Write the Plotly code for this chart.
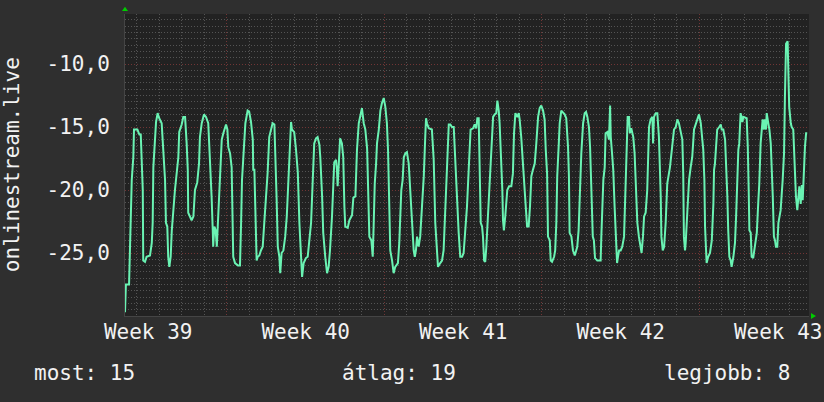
import plotly.graph_objects as go

# ---- data (time in days from left edge of the chart, value) ----
days = [
    0, 0.04, 0.18, 0.22, 0.30, 0.37, 0.40, 0.55, 0.64, 0.70,
    0.74, 0.79, 0.81, 0.89, 0.96, 1.11, 1.19, 1.23, 1.26, 1.33,
    1.38, 1.45, 1.52, 1.63, 1.70, 1.78, 1.82, 1.88, 1.92, 1.97,
    2.03, 2.08, 2.22, 2.37, 2.41, 2.52, 2.59, 2.67, 2.74, 2.79,
    2.81, 2.89, 2.96, 3.04, 3.11, 3.21, 3.29, 3.33, 3.41, 3.51,
    3.60, 3.70, 3.78, 3.85, 3.90, 3.92, 3.97, 4.03, 4.08, 4.15,
    4.22, 4.30, 4.37, 4.49, 4.55, 4.59, 4.67, 4.74, 4.81, 4.89,
    5.02,
    5.11, 5.16, 5.20, 5.26, 5.35, 5.45, 5.52, 5.60, 5.68, 5.70,
    5.75, 5.79, 5.82, 5.85, 5.90, 5.97, 6.04, 6.12, 6.19, 6.27,
    6.34, 6.41, 6.49, 6.56, 6.64, 6.68, 6.71, 6.74, 6.79, 6.86,
    6.90, 6.96, 7.04, 7.12, 7.19, 7.28, 7.33, 7.38, 7.42, 7.52,
    7.60, 7.68, 7.75, 7.82, 7.87, 7.94, 8.04, 8.12, 8.19, 8.27,
    8.34, 8.41, 8.49, 8.56, 8.64, 8.68, 8.76, 8.81, 8.90, 8.98,
    9.05, 9.11, 9.20, 9.26, 9.30, 9.38, 9.42, 9.45, 9.50, 9.56,
    9.64, 9.70, 9.75, 9.79, 9.90, 9.97, 10.09, 10.15,
    10.24, 10.31, 10.39, 10.46, 10.53, 10.61, 10.68, 10.76, 10.80, 10.86,
    10.95, 11.01, 11.05, 11.10, 11.16, 11.20, 11.28, 11.35, 11.42, 11.50,
    11.57, 11.64, 11.69, 11.75, 11.79, 11.87, 11.94, 12.01, 12.13, 12.19,
    12.28, 12.34, 12.39, 12.46, 12.53, 12.61, 12.68, 12.76, 12.83, 12.88,
    12.93, 12.98, 13.05, 13.12, 13.20, 13.28, 13.35, 13.38, 13.42, 13.50,
    13.64, 13.72, 13.79, 13.87, 13.91, 14.01, 14.09, 14.16, 14.24, 14.31,
    14.39, 14.46, 14.53, 14.61, 14.68, 14.76, 14.83, 14.90, 14.98, 15.05,
    15.12, 15.20, 15.28,
    15.36, 15.47, 15.54, 15.61, 15.66, 15.72, 15.76, 15.81, 15.87, 15.91,
    15.96, 16.01, 16.06, 16.13, 16.21, 16.28, 16.36, 16.43, 16.50, 16.55,
    16.61, 16.65, 16.72, 16.77, 16.80, 16.84, 16.90, 16.99, 17.07, 17.17,
    17.24, 17.29, 17.35, 17.44, 17.50, 17.54, 17.61, 17.73, 17.81, 17.87,
    17.94, 18.00, 18.06, 18.13, 18.21, 18.28, 18.36, 18.43, 18.50, 18.58,
    18.65, 18.70, 18.76, 18.80, 18.88, 18.92, 18.98, 19.07, 19.12, 19.17,
    19.21, 19.28, 19.32, 19.39, 19.47, 19.54, 19.61, 19.69, 19.73, 19.76,
    19.84, 19.91, 19.99, 20.10, 20.16, 20.22, 20.28, 20.36, 20.43, 20.49,
    20.55, 20.62, 20.67, 20.72, 20.79, 20.84, 20.89, 20.99, 21.14, 21.17,
    21.21, 21.26, 21.32, 21.36, 21.44, 21.51, 21.56, 21.59, 21.66, 21.70,
    21.76, 21.82, 21.87, 21.91, 21.96, 22.03, 22.10, 22.18, 22.24, 22.30,
    22.34, 22.40, 22.44, 22.50, 22.59, 22.65, 22.70, 22.77, 22.84, 22.92,
    22.96, 23.02, 23.07, 23.14, 23.21, 23.29, 23.36, 23.44, 23.47, 23.51,
    23.59, 23.66, 23.73, 23.81, 23.84, 23.90, 23.96, 24.03, 24.10, 24.22,
    24.32, 24.40, 24.48, 24.55, 24.62, 24.70, 24.77, 24.81, 24.84, 24.89,
    24.92, 24.99, 25.07, 25.14, 25.21, 25.29, 25.44, 25.51,
    25.59, 25.70, 25.75, 25.78, 25.85, 25.92, 26.00, 26.08, 26.15, 26.18,
    26.22, 26.27, 26.32, 26.41, 26.48, 26.52, 26.59, 26.67, 26.71, 26.77,
    26.81, 26.86, 26.92, 26.96, 27.04, 27.11, 27.16, 27.21, 27.26, 27.30,
    27.36, 27.44, 27.48, 27.63, 27.68, 27.72, 27.75, 27.81, 27.85, 27.92,
    28.00, 28.08, 28.15, 28.19, 28.25, 28.30, 28.34, 28.40, 28.44, 28.49,
    28.52, 28.59, 28.64, 28.70, 28.74, 28.79, 28.84, 28.89, 28.93, 28.99,
    29.04, 29.08, 29.14, 29.23, 29.29, 29.33, 29.38, 29.45, 29.48, 29.52,
    29.59, 29.63, 29.70, 29.75, 29.78, 29.82, 29.88, 29.92, 29.97, 30.03,
    30.08, 30.12, 30.15, 30.22, 30.27, 30.32,
]

values = [
    -29.7, -27.5, -27.5, -24.0, -19.2, -17.4, -15.2, -15.2, -15.6, -15.6,
    -17.4, -20.0, -25.6, -25.7, -25.3, -25.2, -24.2, -22.6, -18.2, -16.0,
    -14.6, -13.9, -14.3, -14.7, -17.4, -19.2, -22.6, -22.9, -25.3, -26.1,
    -25.3, -23.2, -20.0, -17.4, -15.4, -14.8, -14.2, -14.2, -16.3, -18.4,
    -21.8, -22.1, -22.4, -22.1, -20.0, -19.4, -17.9, -15.8, -14.7, -14.0,
    -14.2, -14.7, -17.4, -20.6, -23.2, -24.5, -22.9, -23.2, -24.5, -22.1,
    -18.7, -16.0, -15.5, -14.8, -15.2, -16.6, -17.1, -18.2, -25.3, -25.8,
    -26.0,
    -26.0, -22.6, -19.2, -17.4, -14.7, -13.7, -13.8, -14.6, -16.0, -18.4,
    -18.4, -21.3, -25.0, -25.6, -25.3, -25.2, -24.8, -24.5, -22.6, -20.5,
    -18.6, -15.8, -15.2, -14.7, -14.8, -16.8, -19.2, -20.8, -24.5, -25.3,
    -26.6, -25.0, -24.8, -23.7, -22.1, -18.9, -16.0, -14.6, -15.2, -15.4,
    -16.8, -18.6, -22.6, -25.3, -26.9, -25.8, -25.4, -25.3, -24.0, -22.6,
    -19.4, -16.3, -15.9, -15.8, -16.4, -17.4, -20.5, -23.4, -25.3, -26.6,
    -26.1, -24.8, -22.1, -18.9, -17.8, -17.6, -18.4, -19.7, -18.2, -15.9,
    -16.3, -17.4, -21.3, -22.9, -23.0, -22.4, -22.0, -20.6,
    -20.5, -16.8, -14.7, -14.0, -13.5, -14.7, -15.2, -16.7, -18.9, -23.7,
    -24.0, -25.3, -22.9, -19.5, -17.9, -16.3, -15.2, -13.7, -13.1, -12.7,
    -13.4, -14.7, -16.8, -20.8, -24.8, -25.6, -26.6, -26.1, -25.8, -24.2,
    -20.0, -19.2, -17.4, -17.1, -17.0, -17.9, -20.5, -22.6, -24.8, -25.3,
    -24.8, -23.7, -24.5, -23.7, -21.3, -18.9, -15.5, -14.3, -14.7, -15.1,
    -15.2, -17.6, -22.6, -24.8, -26.1, -25.8, -25.6, -24.8, -21.3, -17.4,
    -14.8, -14.8, -15.0, -15.0, -17.9, -21.6, -23.4, -25.3, -25.3, -25.0,
    -23.2, -21.3, -18.2,
    -15.2, -15.1, -14.8, -15.1, -14.3, -14.3, -17.4, -22.6, -22.9, -23.7,
    -25.6, -25.7, -24.5, -22.1, -18.7, -17.4, -14.2, -14.0, -13.9, -12.9,
    -13.7, -14.7, -17.6, -20.0, -22.4, -23.2, -22.1, -20.0, -19.7, -19.7,
    -18.7, -15.5, -13.9, -14.2, -13.9, -14.4, -15.8, -18.7, -21.3, -22.9,
    -22.9, -21.3, -18.9, -18.4, -17.9, -16.3, -14.2, -13.5, -13.3, -13.7,
    -14.4, -16.8, -18.7, -23.7, -24.0, -25.6, -25.7, -25.3, -24.8, -22.6,
    -18.9, -16.3, -14.7, -13.7, -13.9, -14.0, -14.3, -16.6, -18.9, -23.4,
    -23.7, -24.8, -25.2, -24.5, -23.2, -20.0, -17.1, -14.7, -13.9, -13.8,
    -14.2, -15.0, -16.6, -19.5, -23.7, -24.0, -25.4, -25.6, -25.6, -23.7,
    -21.3, -19.2, -18.2, -15.5, -15.4, -16.0, -13.3, -15.8, -17.4, -18.4,
    -21.3, -23.7, -25.8, -25.3, -24.8, -24.8, -24.5, -23.7, -20.0, -17.4,
    -14.2, -14.2, -15.5, -15.1, -15.8, -17.1, -19.5, -22.6, -23.7, -24.8,
    -25.0, -23.7, -22.1, -21.8, -20.0, -15.0, -14.4, -14.2, -16.3, -14.2,
    -13.9, -13.9, -15.8, -20.5, -23.7, -24.8, -24.5, -22.6, -19.5, -18.2,
    -16.3, -15.2, -15.0, -14.4, -14.7, -15.5, -16.0, -18.7, -23.7, -24.8,
    -24.2, -21.8, -19.2, -18.2, -17.4, -15.2, -14.4, -14.0,
    -14.7, -16.8, -19.2, -22.9, -25.8, -25.3, -25.0, -24.0, -21.1, -18.4,
    -17.9, -16.8, -15.2, -15.0, -14.8, -15.2, -15.2, -16.0, -17.4, -20.5,
    -23.2, -25.3, -25.6, -26.1, -25.3, -24.2, -22.1, -19.2, -16.8, -16.3,
    -13.9, -14.6, -14.2, -14.3, -16.6, -20.0, -23.2, -23.4, -25.3, -25.4,
    -24.2, -23.4, -20.8, -19.5, -16.3, -15.2, -14.4, -15.2, -14.4, -15.2,
    -13.9, -14.7, -15.2, -16.3, -17.9, -20.5, -23.7, -24.0, -24.5, -24.5,
    -22.6, -22.1, -21.6, -19.2, -17.1, -12.6, -8.4, -8.2, -11.3, -13.4,
    -14.7, -15.0, -15.2, -17.4, -20.0, -20.5, -21.6, -20.8, -19.7, -21.1,
    -19.6, -20.8, -18.9, -16.6, -15.5, -15.5,
]

week_pos = [1.03, 8.03, 15.03, 22.03, 29.03]
week_labels = ["Week 39", "Week 40", "Week 41", "Week 42", "Week 43"]
y_ticks = [-25, -20, -15, -10]
y_labels = ["-25,0", "-20,0", "-15,0", "-10,0"]
series_name = "onlinestream.live"
legend_items = ["most: 15", "átlag: 19", "legjobb: 8"]

# ---- styling ----
PAPER = "#2f2f2f"
PLOT = "#222222"
MINOR = "#545454"
MAJOR = "#713535"
TXT = "#f2f2f2"
MONO = "DejaVu Sans Mono, Liberation Mono, monospace"
FS = 21
DOT = "1px,2px"

fig = go.Figure()
fig.add_trace(go.Scatter(
    x=days, y=values, mode="lines", xaxis="x", yaxis="y",
    line=dict(color="#6af3b3", width=2), hoverinfo="skip", showlegend=False,
))
fig.add_trace(go.Scatter(
    x=[None], y=[None], xaxis="x2", yaxis="y", mode="lines",
    hoverinfo="skip", showlegend=False,
))

xr = [0, 30.4]
fig.update_layout(
    width=824, height=402, autosize=False,
    margin=dict(l=125, r=15, t=14, b=86, pad=0, autoexpand=False),
    paper_bgcolor=PAPER, plot_bgcolor=PLOT,
    showlegend=False,
    xaxis=dict(
        range=xr, tickmode="linear", tick0=4.53, dtick=7,
        showticklabels=False, showgrid=True, gridcolor=MAJOR,
        griddash=DOT, gridwidth=1, zeroline=False, automargin=False,
        showline=True, linecolor="#454545", linewidth=1, ticks="",
        minor=dict(tick0=0.53, dtick=1, showgrid=True, gridcolor=MINOR,
                   griddash=DOT, gridwidth=1, ticks=""),
    ),
    xaxis2=dict(
        range=xr, overlaying="x", anchor="y", side="bottom",
        tickmode="array", tickvals=week_pos, ticktext=week_labels,
        showgrid=False, zeroline=False, showline=False, ticks="",
        automargin=False,
        tickfont=dict(family=MONO, size=FS, color=TXT),
        ticklabelstandoff=1,
    ),
    yaxis=dict(
        range=[-30, -6.03], tickmode="array", tickvals=y_ticks,
        ticktext=y_labels, showgrid=True, gridcolor=MAJOR,
        griddash=DOT, gridwidth=1, zeroline=False, automargin=False,
        showline=True, linecolor="#454545", linewidth=1, ticks="",
        tickfont=dict(family=MONO, size=FS, color=TXT),
        ticklabelstandoff=10,
        minor=dict(tick0=-30, dtick=0.5, showgrid=True, gridcolor=MINOR,
                   griddash=DOT, gridwidth=1, ticks=""),
    ),
)

# y-axis title
fig.add_annotation(
    text=series_name, xref="paper", yref="paper",
    x=-0.165, y=0.5, textangle=-90, showarrow=False,
    xanchor="center", yanchor="middle",
    font=dict(family=MONO, size=FS, color=TXT),
)

# legend / summary line
fig.add_annotation(text=legend_items[0], xref="paper", yref="paper",
                   x=-0.136, y=-0.188, xanchor="left", yanchor="middle",
                   showarrow=False, font=dict(family=MONO, size=FS, color=TXT))
fig.add_annotation(text=legend_items[1], xref="paper", yref="paper",
                   x=0.4013, y=-0.188, xanchor="center", yanchor="middle",
                   showarrow=False, font=dict(family=MONO, size=FS, color=TXT))
fig.add_annotation(text=legend_items[2], xref="paper", yref="paper",
                   x=0.975, y=-0.188, xanchor="right", yanchor="middle",
                   showarrow=False, font=dict(family=MONO, size=FS, color=TXT))

# axis arrows (green)
fig.add_shape(type="path", xref="paper", yref="paper",
              path="M 0 1.0242 L -0.0044 1.0099 L 0.0044 1.0099 Z",
              fillcolor="#00cc00", line=dict(width=0))
fig.add_shape(type="path", xref="paper", yref="paper",
              path="M 1.0102 0 L 1.0029 0.0099 L 1.0029 -0.0099 Z",
              fillcolor="#00cc00", line=dict(width=0))

fig.write_html(
    "out.html",
    config={"displayModeBar": False, "responsive": False},
    post_script="document.body.style.margin='0';"
                "document.body.style.background='" + PAPER + "';",
)
